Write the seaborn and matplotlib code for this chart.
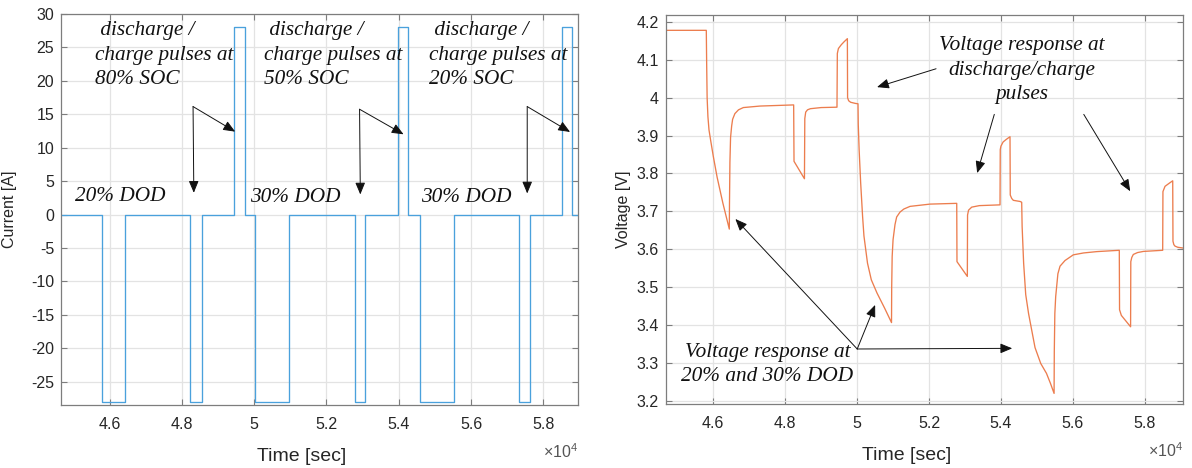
import matplotlib
matplotlib.use("Agg")
import matplotlib.pyplot as plt
from matplotlib.ticker import FuncFormatter
import pandas as pd
import seaborn as sns

# Current profile: time of each level change (s) and the level held from it (A)
current_time = [44655, 45800, 46435, 48235, 48545, 49440, 49735, 50035, 50975,
                52785, 53075, 53975, 54270, 54590, 55520, 57320, 57630, 58510,
                58805, 58960]
current_amp = [0, -28, 0, -28, 0, 28, 0, -28, 0, -28, 0, 28, 0, -28, 0, -28, 0,
               28, 0, 0]

# Terminal voltage response (s, V)
voltage_time = [
    44655, 45805,
    45815, 45828, 45850, 45880, 45930, 46000, 46106, 46265, 46445,
    46450, 46462, 46480, 46510, 46537, 46600, 46700, 46835, 47300, 48235,
    48245, 48535,
    48545, 48570, 48620, 48700, 49000, 49440,
    49450, 49480, 49560, 49640, 49729,
    49735, 49765, 49820, 49950, 50025,
    50032, 50056, 50099, 50152, 50190, 50289, 50395, 50554, 50766, 50957,
    50962, 50975, 51000, 51054, 51100, 51194, 51300, 51472, 52028, 52771,
    52778, 53066,
    53072, 53100, 53188, 53400, 53975,
    53982, 54000, 54060, 54150, 54253,
    54260, 54300, 54345, 54531, 54578,
    54590, 54632, 54690, 54769, 54949, 55108, 55267, 55380, 55479,
    55485, 55500, 55524, 55585, 55644, 55783, 56014, 56300, 56665, 57293,
    57300, 57350, 57607,
    57613, 57640, 57683, 57800, 57961, 58500,
    58507, 58565, 58680, 58779,
    58786, 58810, 58843, 58918, 59065,
]
voltage_val = [
    4.178, 4.178,
    4.090, 4.000, 3.950, 3.915, 3.885, 3.845, 3.790, 3.722, 3.653,
    3.720, 3.830, 3.895, 3.925, 3.943, 3.958, 3.968, 3.974, 3.978, 3.981,
    3.832, 3.786,
    3.945, 3.962, 3.968, 3.971, 3.974, 3.975,
    4.117, 4.130, 4.140, 4.148, 4.156,
    4.000, 3.992, 3.988, 3.985, 3.984,
    3.930, 3.863, 3.775, 3.687, 3.635, 3.563, 3.519, 3.484, 3.444, 3.406,
    3.500, 3.580, 3.625, 3.665, 3.685, 3.698, 3.706, 3.713, 3.719, 3.721,
    3.567, 3.528,
    3.690, 3.703, 3.711, 3.715, 3.717,
    3.863, 3.872, 3.883, 3.890, 3.897,
    3.743, 3.734, 3.729, 3.726, 3.724,
    3.660, 3.563, 3.480, 3.430, 3.340, 3.298, 3.272, 3.245, 3.219,
    3.330, 3.430, 3.475, 3.535, 3.555, 3.570, 3.585, 3.590, 3.5935, 3.597,
    3.440, 3.425, 3.395,
    3.567, 3.578, 3.586, 3.591, 3.594, 3.597,
    3.752, 3.766, 3.774, 3.7806,
    3.621, 3.612, 3.608, 3.605, 3.603,
]

current_ticks = list(range(-25, 31, 5))
voltage_ticks = [3.2, 3.3, 3.4, 3.5, 3.6, 3.7, 3.8, 3.9, 4.0, 4.1, 4.2]
time_ticks = [46000, 48000, 50000, 52000, 54000, 56000, 58000]

sns.set_theme(style="whitegrid")
plt.rcParams["font.family"] = ["Liberation Sans", "DejaVu Sans"]
plt.rcParams["mathtext.fontset"] = "custom"
plt.rcParams["mathtext.rm"] = "Liberation Sans"

SERIF = dict(family="Liberation Serif", style="italic", color="#111111")
FRAME = "#7d7d7d"
TEXT = "#262626"
NOTE_SIZE = 15.3

fig = plt.figure(figsize=(11.92, 4.68), dpi=100)
fig.patch.set_facecolor("white")
ax1 = fig.add_axes([61 / 1192, 1 - 405 / 468, 517 / 1192, 391 / 468])
ax2 = fig.add_axes([666 / 1192, 1 - 404 / 468, 517 / 1192, 389 / 468])

cur = pd.DataFrame({"t": current_time, "i": current_amp})
volt = pd.DataFrame({"t": voltage_time, "v": voltage_val})

sns.lineplot(data=cur, x="t", y="i", ax=ax1, estimator=None, sort=False,
             color="#4aa1dc", lw=0.95, drawstyle="steps-post")
sns.lineplot(data=volt, x="t", y="v", ax=ax2, estimator=None, sort=False,
             color="#ec7d4e", lw=0.95)

fmt_time = FuncFormatter(lambda v, p: f"{v / 1e4:g}")
fmt_g = FuncFormatter(lambda v, p: f"{round(v, 2):g}")

for ax, xl, yticks in ((ax1, (44655, 58960), current_ticks),
                       (ax2, (44684, 59065), voltage_ticks)):
    ax.set_xlim(*xl)
    ax.set_xticks(time_ticks)
    ax.set_yticks(yticks)
    ax.xaxis.set_major_formatter(fmt_time)
    ax.yaxis.set_major_formatter(fmt_g)
    ax.set_facecolor("white")
    ax.grid(True, color="#e3e3e3", lw=0.9)
    for s in ax.spines.values():
        s.set_visible(True)
        s.set_color(FRAME)
        s.set_linewidth(0.9)
    ax.tick_params(axis="both", which="both", direction="in", length=4,
                   width=0.8, color=FRAME, labelsize=11.5, labelcolor=TEXT,
                   top=True, right=True, bottom=True, left=True)
    ax.tick_params(axis="y", pad=5)
    ax.tick_params(axis="x", pad=8.5)
    ax.set_xlabel("Time [sec]", fontsize=14, color=TEXT)
    ax.xaxis.set_label_coords(0.465, -0.11)
    ax.text(1.0, -0.12, "×$\\mathregular{10^{4}}$", transform=ax.transAxes,
            ha="right", va="center", fontsize=11.5, color="#555555")

ax1.set_ylim(-28.5, 30)
ax2.set_ylim(3.191, 4.2185)
ax1.set_ylabel("Current [A]", fontsize=11.5, color=TEXT)
ax1.yaxis.set_label_coords(-0.085, 0.5)
ax2.set_ylabel("Voltage [V]", fontsize=11.5, color=TEXT)
ax2.yaxis.set_label_coords(-0.068, 0.5)

ARROW = dict(arrowstyle="-|>,head_length=0.6,head_width=0.25", color="#111111",
             lw=0.7, shrinkA=0, shrinkB=0, mutation_scale=12)


def arrow(ax, tail, tip):
    ax.annotate("", xy=tip, xytext=tail, arrowprops=ARROW)


# Current panel notes
for x0, soc in ((45608, "80% SOC"), (50268, "50% SOC"), (54843, "20% SOC")):
    ax1.text(x0, 23.85, f" discharge /\ncharge pulses at\n{soc}", ha="left",
             va="center", fontsize=NOTE_SIZE, linespacing=1.4, **SERIF)
for x0, y0, dod in ((45047, 2.75, "20% DOD"), (49897, 2.5, "30% DOD"),
                    (54610, 2.5, "30% DOD")):
    ax1.text(x0, y0, dod, ha="left", va="center", fontsize=NOTE_SIZE, **SERIF)
for tail, down, diag in (((48309, 16.15), (48330, 3.25), (49474, 12.4)),
                         ((52916, 15.75), (52937, 3.0), (54134, 12.0)),
                         ((57555, 16.15), (57555, 3.15), (58741, 12.35))):
    arrow(ax1, tail, down)
    arrow(ax1, tail, diag)

# Voltage panel notes
ax2.text(54578, 4.073, "Voltage response at\ndischarge/charge\npulses",
         ha="center", va="center", multialignment="center", fontsize=NOTE_SIZE,
         linespacing=1.4, **SERIF)
arrow(ax2, (52196, 4.0765), (50554, 4.028))
arrow(ax2, (53816, 3.956), (53340, 3.801))
arrow(ax2, (56305, 3.956), (57597, 3.753))

ax2.text(47504, 3.2955, "Voltage response at\n20% and 30% DOD",
         ha="center", va="center", multialignment="center", fontsize=NOTE_SIZE,
         linespacing=1.4, **SERIF)
for tip in ((46614, 3.6797), (50501, 3.4527), (54314, 3.338)):
    arrow(ax2, (50003, 3.3363), tip)

fig.savefig("out.png", dpi=100, facecolor="white")
